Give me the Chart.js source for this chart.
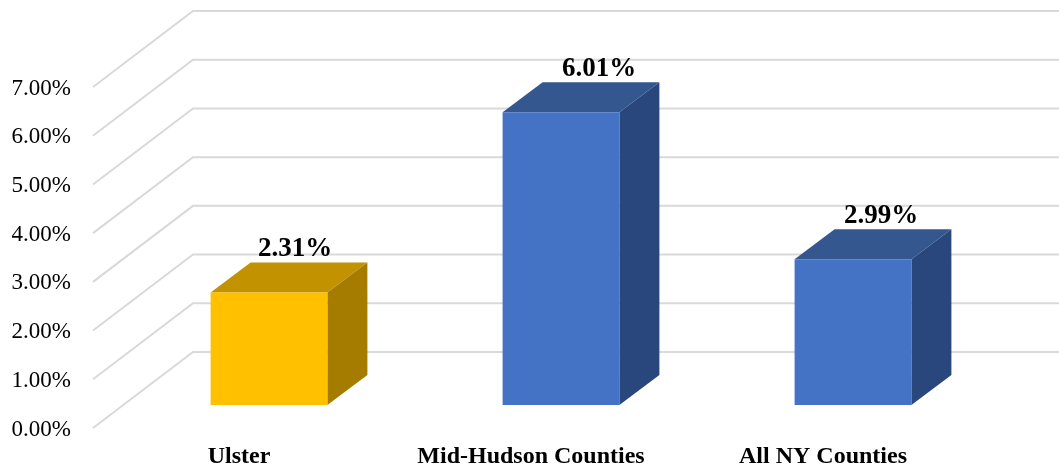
<!DOCTYPE html>
<html>
<head>
<meta charset="utf-8">
<title>Rate by area</title>
<style>
  html, body { margin: 0; padding: 0; background: #ffffff; }
  canvas { display: block; }
</style>
<script src="https://cdn.jsdelivr.net/npm/chart.js@4"></script>
</head>
<body>
<canvas id="chart" width="1059" height="468"></canvas>
<script>
const categories = ['Ulster', 'Mid-Hudson Counties', 'All NY Counties'];
const rates = [2.31, 6.01, 2.99];
const faceColors = ['#FFC000', '#4472C4', '#4472C4'];
const topColors = ['#C39200', '#34578F', '#34578F'];
const sideColors = ['#A57C00', '#2A477D', '#2A477D'];

// Oblique projection of the 3D box: wall depth, and where the bars sit within it.
const WALL_DX = 100, WALL_DY = -76;
const BAR_DX = 30, BAR_DY = -23;
const BOX_DX = 40, BOX_DY = -30;
// Tick text sits slightly under its gridline, so marks are lifted off the scale by this much.
const MARK_LIFT = 1.5;
// Each value label's horizontal shift from its bar's front-face centre.
const labelShift = [26, 38, 28];

const SERIF = '"Liberation Serif", "Times New Roman", serif';

function polygon(ctx, pts, color) {
  ctx.beginPath();
  ctx.moveTo(pts[0][0], pts[0][1]);
  for (let i = 1; i < pts.length; i++) ctx.lineTo(pts[i][0], pts[i][1]);
  ctx.closePath();
  ctx.fillStyle = color;
  ctx.fill();
}

// Draws the receding gridlines before the datasets.
const wallGrid = {
  id: 'wallGrid',
  beforeDatasetsDraw(chart) {
    const { ctx, scales: { y }, chartArea, width } = chart;
    ctx.save();
    ctx.strokeStyle = '#D9D9D9';
    ctx.lineWidth = 2;
    y.ticks.forEach(t => {
      const py = y.getPixelForValue(t.value) - MARK_LIFT;
      ctx.beginPath();
      ctx.moveTo(chartArea.left, py);
      ctx.lineTo(chartArea.left + WALL_DX, py + WALL_DY);
      ctx.lineTo(width, py + WALL_DY);
      ctx.stroke();
    });
    ctx.restore();
  }
};

// Replaces each flat bar with an extruded box plus its value label.
const boxBars = {
  id: 'boxBars',
  beforeDatasetDraw(chart, args) {
    const { ctx } = chart;
    const bars = chart.getDatasetMeta(args.index).data;
    ctx.save();
    bars.forEach((bar, i) => {
      const half = bar.width / 2;
      const l = bar.x - half + BAR_DX;
      const r = bar.x + half + BAR_DX;
      const t = bar.y + BAR_DY - MARK_LIFT;
      const b = bar.base + BAR_DY - MARK_LIFT;
      polygon(ctx, [[l, t], [r, t], [r + BOX_DX, t + BOX_DY], [l + BOX_DX, t + BOX_DY]], topColors[i]);
      polygon(ctx, [[r, t], [r + BOX_DX, t + BOX_DY], [r + BOX_DX, b + BOX_DY], [r, b]], sideColors[i]);
      polygon(ctx, [[l, t], [r, t], [r, b], [l, b]], faceColors[i]);

      ctx.fillStyle = '#000000';
      ctx.font = 'bold 27px ' + SERIF;
      ctx.textAlign = 'center';
      ctx.textBaseline = 'alphabetic';
      ctx.fillText(rates[i].toFixed(2) + '%', bar.x + BAR_DX + labelShift[i], t + BOX_DY - 6.5);
    });
    ctx.restore();
    return false;
  }
};

new Chart(document.getElementById('chart'), {
  type: 'bar',
  data: {
    labels: categories,
    datasets: [{
      data: rates,
      backgroundColor: faceColors,
      categoryPercentage: 1,
      barPercentage: 0.4
    }]
  },
  plugins: [wallGrid, boxBars],
  options: {
    responsive: false,
    animation: false,
    layout: { padding: { left: 0, top: 88.5, right: 90, bottom: 0 } },
    plugins: { legend: { display: false }, tooltip: { enabled: false } },
    scales: {
      x: {
        grid: { display: false, drawTicks: false },
        border: { display: false },
        afterFit(scale) { scale.height = 38.5; },
        ticks: {
          autoSkip: false,
          maxRotation: 0,
          padding: 13,
          color: '#000000',
          font: { family: SERIF, size: 24, weight: 'bold' }
        }
      },
      y: {
        min: 0,
        max: 7,
        grid: { display: false, drawTicks: false },
        border: { display: false },
        afterFit(scale) { scale.width = 93; },
        ticks: {
          stepSize: 1,
          padding: 22,
          color: '#000000',
          font: { family: SERIF, size: 23 },
          callback: v => v.toFixed(2) + '%'
        }
      }
    }
  }
});
</script>
</body>
</html>
